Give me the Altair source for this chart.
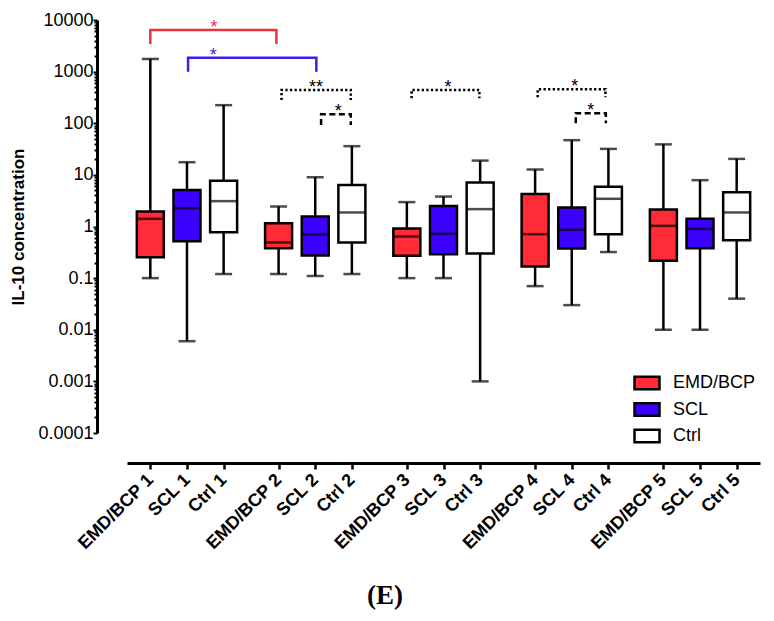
import json
import altair as alt
import pandas as pd

# ---------------- data ----------------
visits = [1, 2, 3, 4, 5]
groups = ["EMD/BCP", "SCL", "Ctrl"]
group_colors = ["#ff2b37", "#3c00ff", "#ffffff"]

labels = [f"{g} {v}" for v in visits for g in groups]

w_min = [0.10, 0.006, 0.12, 0.12, 0.11, 0.12, 0.10, 0.10, 0.001, 0.070, 0.030, 0.32, 0.010, 0.010, 0.040]
q1 =    [0.255, 0.52, 0.77, 0.38, 0.275, 0.49, 0.27, 0.29, 0.30, 0.168, 0.375, 0.71, 0.217, 0.38, 0.54]
med =   [1.41, 2.27, 3.10, 0.49, 0.70, 1.87, 0.64, 0.72, 2.17, 0.71, 0.86, 3.44, 1.03, 0.90, 1.87]
q3 =    [1.95, 5.1, 7.66, 1.16, 1.56, 6.4, 0.91, 2.5, 7.1, 4.24, 2.33, 5.9, 2.13, 1.41, 4.6]
w_max = [1760, 17.6, 224, 2.44, 9.0, 36, 2.97, 3.8, 18.9, 12.7, 47, 31.9, 39, 7.9, 20.4]

y_ticks = [0.0001, 0.001, 0.01, 0.1, 1, 10, 100, 1000, 10000]

# significance brackets (x in category-position units, y in concentration)
br_x1 = [0.0, 1.03, 3.58, 4.66, 7.13, 10.57, 11.61]
br_x2 = [3.44, 4.53, 5.47, 5.47, 8.98, 12.42, 12.43]
br_top = [6410, 1866, 442, 150, 442, 456, 157]
br_end = [3435, 1000, 283, 93, 305, 319, 100]
br_style = ["solid", "solid", "dotted", "dashed", "dotted", "dotted", "dashed"]
br_color = ["#e8323c", "#3c1ee6", "black", "black", "black", "black", "black"]
star_text = ["*", "*", "**", "*", "*", "*", "*"]
star_x = [1.74, 1.72, 4.52, 5.13, 8.12, 11.58, 12.02]

# ---------------- tables ----------------
GROUP_STEP = 3.5
pos = [vi * GROUP_STEP + gi for vi in range(len(visits)) for gi in range(len(groups))]
grp = [g for v in visits for g in groups]

boxes = pd.DataFrame({"label": labels, "pos": pos, "group": grp,
                      "wmin": w_min, "q1": q1, "med": med, "q3": q3, "wmax": w_max})

rows = []
for i in range(len(br_x1)):
    pts = [(br_x1[i], br_end[i]), (br_x1[i], br_top[i]), (br_x2[i], br_top[i]), (br_x2[i], br_end[i])]
    for k, (xx, yy) in enumerate(pts):
        rows.append({"id": i, "k": k, "x": xx, "y": yy, "style": br_style[i], "color": br_color[i]})
brackets = pd.DataFrame(rows)
stars = pd.DataFrame({"x": star_x, "y": br_top, "text": star_text, "color": br_color})

FONT = "Liberation Sans"
majors = json.dumps(y_ticks)
is_major = f"indexof({majors}, datum.value) >= 0"

x_scale = alt.Scale(domain=[-0.5, pos[-1] + 0.5], nice=False, zero=False)
y_scale = alt.Scale(type="log", domain=[y_ticks[0], y_ticks[-1]], nice=False)

x_axis = alt.Axis(values=pos,
                  labelExpr=f"{json.dumps(labels)}[indexof({json.dumps(pos)}, datum.value)]",
                  labelAngle=-45, labelAlign="right", labelBaseline="middle",
                  labelFont=FONT, labelFontSize=18, labelFontWeight="bold",
                  labelColor="black", labelOverlap=False, labelPadding=8, offset=30,
                  tickSize=6, tickWidth=2.5, domainWidth=3, title=None, grid=False)
y_axis = alt.Axis(title="IL-10 concentration", titleFont=FONT, titleFontSize=17,
                  titleFontWeight="bold", titleColor="black", titlePadding=10,
                  labelFont=FONT, labelFontSize=18, labelColor="black", labelOverlap=False,
                  labelExpr=f"{is_major} ? format(datum.value, '~g') : ''",
                  tickSize={"condition": {"test": is_major, "value": 4}, "value": 3},
                  tickWidth=2, domainWidth=3, offset=30, grid=False, labelPadding=0)

X = alt.X("pos:Q", scale=x_scale, axis=x_axis)

base = alt.Chart(boxes)
whisk = base.mark_rule(color="black", strokeWidth=2.5).encode(
    x=X, y=alt.Y("wmin:Q", scale=y_scale, axis=y_axis), y2="wmax:Q")
cap_top = base.mark_tick(orient="horizontal", size=17, thickness=2.5, color="black").encode(
    x="pos:Q", y="wmax:Q")
cap_bot = base.mark_tick(orient="horizontal", size=17, thickness=2.5, color="black").encode(
    x="pos:Q", y="wmin:Q")
box = base.mark_bar(size=27, stroke="black", strokeWidth=2.5).encode(
    x="pos:Q", y="q1:Q", y2="q3:Q",
    color=alt.Color("group:N", scale=alt.Scale(domain=groups, range=group_colors),
                    legend=alt.Legend(title=None, orient="none", legendX=506, legendY=349,
                                      symbolType="M-1,-0.5H1V0.5H-1Z", symbolSize=625,
                                      symbolStrokeColor="black", symbolStrokeWidth=2.5,
                                      symbolOpacity=1,
                                      labelFont=FONT, labelFontSize=18, labelColor="black",
                                      labelOffset=12, rowPadding=0.5, padding=0)))
median = base.mark_tick(orient="horizontal", size=27, thickness=2.5, color="black").encode(
    x="pos:Q", y="med:Q")

br = alt.Chart(brackets).mark_line(strokeWidth=2.5, strokeCap="butt").encode(
    x="x:Q", y="y:Q", detail="id:N", order="k:Q",
    color=alt.Color("color:N", scale=None),
    strokeDash=alt.StrokeDash("style:N", scale=alt.Scale(domain=["solid", "dotted", "dashed"],
                                                         range=[[1, 0], [2.3, 2.3], [6, 3.5]]),
                              legend=None))
st = alt.Chart(stars).mark_text(font=FONT, fontSize=18, baseline="alphabetic", dy=3).encode(
    x="x:Q", y="y:Q", text="text:N", color=alt.Color("color:N", scale=None))

chart = alt.layer(whisk, cap_top, cap_bot, box, median, br, st).properties(
    width=633, height=413,
    autosize=alt.AutoSizeParams(type="none"),
    padding={"left": 119, "top": 12, "right": 6, "bottom": 180},
    title=alt.Title("(E)", orient="bottom", anchor="middle", frame="bounds",
                    font="Liberation Serif", fontSize=27, fontWeight="bold", color="black",
                    offset=30),
).resolve_scale(color="independent").configure_view(stroke=None).configure_axis(
    domainColor="black", tickColor="black")

chart.save("out.html", embed_options={"renderer": "svg", "actions": False})
